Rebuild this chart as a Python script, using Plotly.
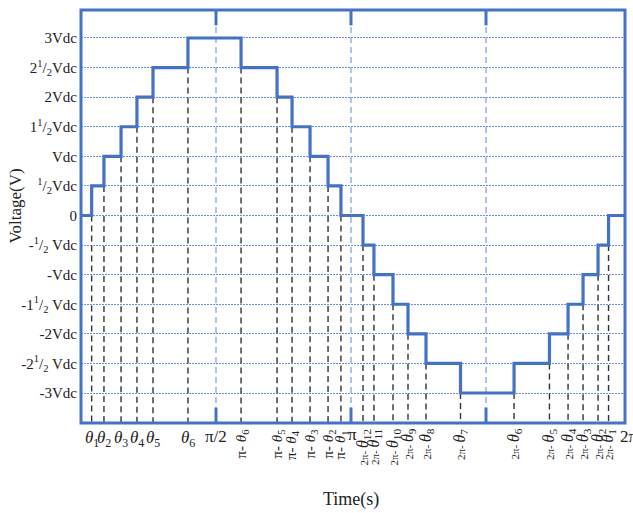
import plotly.graph_objects as go

# ---- data (angles in degrees) ----
switch_angles = [7.1, 15.3, 26.7, 37.3, 48.0, 71.3,
                 106.7, 130.7, 140.7, 152.7, 164.7, 173.3,
                 188.0, 195.3, 208.0, 218.0, 230.0, 253.0,
                 288.7, 312.3, 324.7, 334.7, 344.7, 351.7]
levels = [0, 0.5, 1, 1.5, 2, 2.5, 3, 2.5, 2, 1.5, 1, 0.5, 0,
          -0.5, -1, -1.5, -2, -2.5, -3, -2.5, -2, -1.5, -1, -0.5, 0]
quarter_marks = [90, 180, 270]
y_ticks = [3, 2.5, 2, 1.5, 1, 0.5, 0, -0.5, -1, -1.5, -2, -2.5, -3]
y_tick_labels = ["3Vdc", "2<sup>1</sup>/<sub>2</sub>Vdc", "2Vdc", "1<sup>1</sup>/<sub>2</sub>Vdc",
                 "Vdc", "<sup>1</sup>/<sub>2</sub>Vdc", "0", "-<sup>1</sup>/<sub>2</sub> Vdc",
                 "-Vdc", "-1<sup>1</sup>/<sub>2</sub> Vdc", "-2Vdc", "-2<sup>1</sup>/<sub>2</sub> Vdc", "-3Vdc"]
flat_labels = ["1", "2", "3", "4", "5", "6"]          # θk under first six edges
pi_labels = ["6", "5", "4", "3", "2", "1"]            # π- θk
two_pi_fall_labels = ["12", "11", "10", "9", "8", "7"]  # 2π- θk
two_pi_rise_labels = ["6", "5", "4", "3", "2", "1"]   # 2π- θk

X_END = 362.67
Y_MIN, Y_MAX = -3.507, 3.473
BLUE = "#4472C4"
FONT = "Liberation Serif"

fig = go.Figure()

# blue dashed quarter lines
for q in quarter_marks:
    fig.add_trace(go.Scatter(x=[q, q], y=[Y_MIN, Y_MAX], mode="lines",
                             line=dict(color="#86a3dc", width=1.3, dash="6px,4px"),
                             hoverinfo="skip", showlegend=False))

# black dashed drop lines
dx, dy = [], []
for i, a in enumerate(switch_angles):
    top = min(levels[i], levels[i + 1])
    dx += [a, a, None]
    dy += [top, Y_MIN, None]
fig.add_trace(go.Scatter(x=dx, y=dy, mode="lines",
                         line=dict(color="#333333", width=1.4, dash="6px,4px"),
                         hoverinfo="skip", showlegend=False))

# stepped waveform
wx = [0] + switch_angles + [X_END]
wy = levels + [levels[-1]]
fig.add_trace(go.Scatter(x=wx, y=wy, mode="lines", line_shape="hv",
                         line=dict(color=BLUE, width=3.2), showlegend=False))

# solid ticks at top and bottom of quarter marks
for q in quarter_marks:
    fig.add_shape(type="line", x0=q, x1=q, y0=Y_MAX, y1=Y_MAX - 0.26,
                  line=dict(color=BLUE, width=3))
    fig.add_shape(type="line", x0=q, x1=q, y0=Y_MIN, y1=Y_MIN + 0.26,
                  line=dict(color=BLUE, width=3))

# frame
fig.add_shape(type="rect", xref="paper", yref="paper", x0=0, x1=1, y0=0, y1=1,
              line=dict(color=BLUE, width=3))

ann = []
def th(k):
    return "<i>θ</i><sub>%s</sub>" % k

TXT = "#222"
# horizontal θ labels
for a, k in zip(switch_angles[:6], flat_labels):
    ann.append(dict(x=a, y=0, xref="x", yref="paper", text=th(k), showarrow=False,
                    xanchor="center", yanchor="top", yshift=-3,
                    font=dict(family=FONT, size=17, color=TXT)))
ann.append(dict(x=90, y=0, xref="x", yref="paper", text="π/2", showarrow=False,
                xanchor="center", yanchor="top", yshift=-2,
                font=dict(family=FONT, size=17, color=TXT)))
ann.append(dict(x=181, y=0, xref="x", yref="paper", text="π", showarrow=False,
                xanchor="center", yanchor="top", yshift=0,
                font=dict(family=FONT, size=17, color=TXT)))
ann.append(dict(x=1, y=0, xref="paper", yref="paper", text="2π", showarrow=False,
                xanchor="left", yanchor="top", yshift=-2, xshift=-7,
                font=dict(family=FONT, size=17, color=TXT)))

# rotated π- θk labels
for a, k in zip(switch_angles[6:12], pi_labels):
    ann.append(dict(x=a, y=0, xref="x", yref="paper",
                    text="π- " + th(k), showarrow=False, textangle=-90,
                    xanchor="center", yanchor="top", yshift=-5,
                    font=dict(family=FONT, size=15, color=TXT)))
# rotated 2π- θk labels
for a, k in zip(switch_angles[12:], two_pi_fall_labels + two_pi_rise_labels):
    ann.append(dict(x=a, y=0, xref="x", yref="paper",
                    text="<span style='font-size:11px'>2π- </span>" + th(k),
                    showarrow=False, textangle=-90,
                    xanchor="center", yanchor="top", yshift=-4,
                    font=dict(family=FONT, size=16, color=TXT)))

ann.append(dict(x=0.5, y=0, xref="paper", yref="paper", text="Time(s)", showarrow=False,
                xanchor="center", yanchor="middle", yshift=-76, xshift=-2,
                font=dict(family=FONT, size=18, color=TXT)))
ann.append(dict(x=0, y=0.5, xref="paper", yref="paper", text="Voltage(V)", showarrow=False,
                textangle=-90, xanchor="center", yanchor="middle", xshift=-66, yshift=10,
                font=dict(family=FONT, size=17, color=TXT)))

fig.update_layout(
    width=633, height=513,
    margin=dict(l=81, r=8, t=10, b=90, autoexpand=False),
    paper_bgcolor="white", plot_bgcolor="white",
    annotations=ann,
    xaxis=dict(range=[0, X_END], showgrid=False, zeroline=False, automargin=False,
               showticklabels=False, ticks=""),
    yaxis=dict(range=[Y_MIN, Y_MAX], tickvals=y_ticks, ticktext=y_tick_labels,
               showgrid=True, gridcolor="#6b8fe0", gridwidth=1.2, griddash="2px,1px",
               zeroline=False, ticks="", ticklabelstandoff=3, automargin=False,
               tickfont=dict(family=FONT, size=15, color=TXT)),
)

fig.write_html("out.html", config={"displayModeBar": False},
               post_script="document.body.style.margin='0';document.body.style.overflow='hidden';")
